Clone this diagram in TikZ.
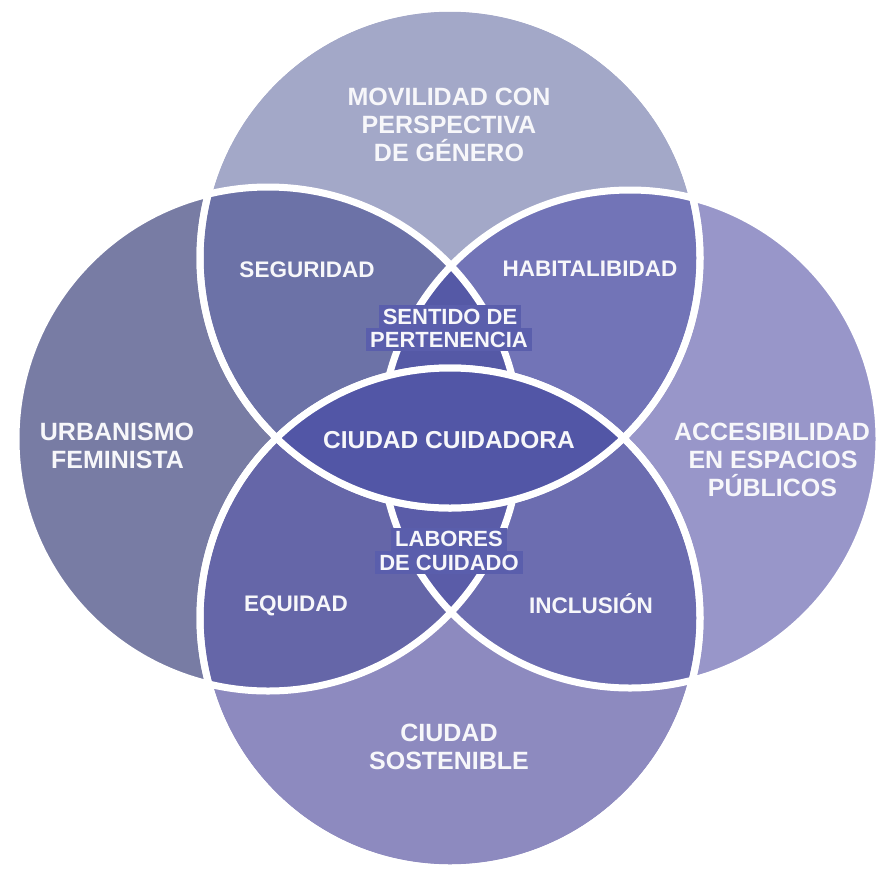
\documentclass[tikz,border=0pt]{standalone}
\usepackage{fontspec}
\setmainfont{Liberation Sans}
\definecolor{cT}{HTML}{A3A8C8}
\definecolor{cL}{HTML}{787CA4}
\definecolor{cR}{HTML}{9896C9}
\definecolor{cB}{HTML}{8D8ABF}
\definecolor{cTL}{HTML}{6C72A7}
\definecolor{cTR}{HTML}{7274B7}
\definecolor{cBL}{HTML}{6566A8}
\definecolor{cBR}{HTML}{6C6DB0}
\definecolor{cTLR}{HTML}{5559A6}
\definecolor{cBLR}{HTML}{5A5CA8}
\definecolor{cLens}{HTML}{5256A6}
\definecolor{cBox}{HTML}{5A5EAC}
\definecolor{cTxt}{HTML}{F7F7FA}
\begin{document}
\begin{tikzpicture}[x=1pt,y=-1pt,
  outline/.style={draw=white,line width=7pt},
  big/.style={text=cTxt,font=\bfseries\fontsize{25}{28}\selectfont,inner sep=0pt,text height=18pt,text depth=0pt},
  mid/.style={text=cTxt,font=\bfseries\fontsize{24.5}{27}\selectfont,inner sep=0pt,text height=17.5pt,text depth=0pt},
  small/.style={text=cTxt,font=\bfseries\fontsize{22.5}{24}\selectfont,inner sep=0pt,text height=16.1pt,text depth=0pt},
  hl/.style={text=cTxt,font=\bfseries\fontsize{22}{23}\selectfont,inner ysep=0pt,inner xsep=4pt,text height=15.8pt,text depth=0pt,fill=cBox,minimum height=23pt}
]
\def\rT{250pt}\def\rB{250pt}\def\rL{252pt}\def\rR{249pt}
\fill[white] (0,0) rectangle (880,870);
\useasboundingbox (0,0) rectangle (880,870);
\clip (0,0) rectangle (880,870);
\coordinate (T) at (450,258);
\coordinate (B) at (450,618);
\coordinate (L) at (268,439);
\coordinate (R) at (630,439);
% base circles
\fill[cT] (T) circle[radius=\rT];
\fill[cL] (L) circle[radius=\rL];
\fill[cR] (R) circle[radius=\rR];
\fill[cB] (B) circle[radius=\rB];
% pairwise overlaps
\begin{scope}\clip (T) circle[radius=\rT]; \fill[cTL] (L) circle[radius=\rL]; \end{scope}
\begin{scope}\clip (T) circle[radius=\rT]; \fill[cTR] (R) circle[radius=\rR]; \end{scope}
\begin{scope}\clip (B) circle[radius=\rB]; \fill[cBL] (L) circle[radius=\rL]; \end{scope}
\begin{scope}\clip (B) circle[radius=\rB]; \fill[cBR] (R) circle[radius=\rR]; \end{scope}
% triple overlaps
\begin{scope}\clip (T) circle[radius=\rT]; \clip (L) circle[radius=\rL]; \fill[cTLR] (R) circle[radius=\rR]; \end{scope}
\begin{scope}\clip (B) circle[radius=\rB]; \clip (L) circle[radius=\rL]; \fill[cBLR] (R) circle[radius=\rR]; \end{scope}
% white outlines
\draw[outline] (L) circle[radius=\rL];
\draw[outline] (R) circle[radius=\rR];
\draw[outline] (T) circle[radius=\rT];
\draw[outline] (B) circle[radius=\rB];
% central lens
\begin{scope}\clip (T) circle[radius=\rT]; \fill[cLens] (B) circle[radius=\rB]; \end{scope}
\draw[outline] (T) circle[radius=\rT];
\draw[outline] (B) circle[radius=\rB];
% labels
\node[big] (mov1) at (449,96.5) {MOVILIDAD CON};
\node[big] (mov2) at (449,124.5) {PERSPECTIVA};
\node[big] (mov3) at (449,152.5) {DE GÉNERO};
\node[big] (urb1) at (117,431.5) {URBANISMO};
\node[big] (urb2) at (117.5,459.5) {FEMINISTA};
\node[big] (acc1) at (772,431) {ACCESIBILIDAD};
\node[big] (acc2) at (773,459) {EN ESPACIOS};
\node[big] (acc3) at (772.5,487) {PÚBLICOS};
\node[big] (sos1) at (449,732) {CIUDAD};
\node[big] (sos2) at (449,760) {SOSTENIBLE};
\node[mid] (cc) at (449,440) {CIUDAD CUIDADORA};
\node[small] (seg) at (307,269) {SEGURIDAD};
\node[small] (hab) at (590,268.5) {HABITALIBIDAD};
\node[small] (equ) at (296,603.5) {EQUIDAD};
\node[small] (inc) at (591,605) {INCLUSIÓN};
\node[hl] (sen1) at (450,316.5) {SENTIDO DE};
\node[hl] (sen2) at (449,339.5) {PERTENENCIA};
\node[hl] (lab1) at (449,539) {LABORES};
\node[hl] (lab2) at (449,562.5) {DE CUIDADO};
\end{tikzpicture}
\end{document}
